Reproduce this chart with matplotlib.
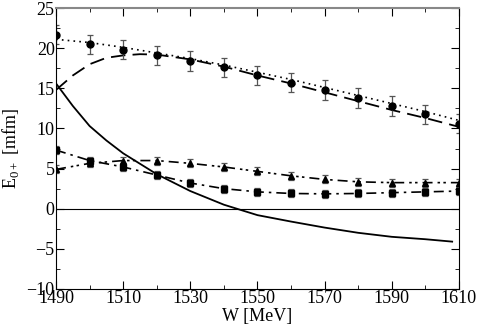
import numpy as np
import matplotlib.pyplot as plt

plt.rcParams['font.family'] = ['Liberation Serif', 'DejaVu Serif']
plt.rcParams['mathtext.fontset'] = 'custom'
plt.rcParams['mathtext.rm'] = 'Liberation Serif'

# data points
W = [1490, 1500, 1510, 1520, 1530, 1540, 1550, 1560, 1570, 1580, 1590, 1600, 1610]
circ = [21.7, 20.5, 19.8, 19.1, 18.4, 17.6, 16.6, 15.7, 14.8, 13.8, 12.8, 11.75, 10.6]
circ_err = [1.2] * 13
sq = [7.3, 6.0, 5.2, 4.2, 3.2, 2.5, 2.1, 1.9, 1.85, 1.9, 2.0, 2.1, 2.2]
sq_err = [0.5] * 13
tri = [4.9, 5.65, 6.0, 6.0, 5.65, 5.2, 4.65, 4.1, 3.65, 3.35, 3.25, 3.25, 3.25]
tri_err = [0.5] * 13

# curves
W_dot = [1490, 1500, 1510, 1520, 1530, 1540, 1550, 1560, 1570, 1580, 1590, 1600, 1610]
dot = [21.1, 20.7, 20.1, 19.4, 18.7, 17.9, 17.0, 16.1, 15.1, 14.1, 13.1, 12.1, 11.0]
W_dash = [1490, 1495, 1500, 1505, 1510, 1515, 1520, 1530, 1540, 1550, 1560, 1570, 1580, 1590, 1600, 1610]
dash = [14.8, 16.6, 18.0, 18.8, 19.1, 19.25, 19.2, 18.6, 17.7, 16.6, 15.6, 14.5, 13.4, 12.3, 11.3, 10.2]
W_sol = [1490, 1495, 1500, 1505, 1510, 1520, 1530, 1540, 1550, 1560, 1570, 1580, 1590, 1600, 1608]
sol = [15.6, 12.8, 10.3, 8.5, 6.9, 4.3, 2.2, 0.5, -0.8, -1.6, -2.35, -3.0, -3.5, -3.8, -4.1]

fig = plt.figure(figsize=(4.79, 3.29), dpi=100)
ax = fig.add_axes([0.117, 0.1216, 0.841, 0.854])

ax.axhline(0, color='black', lw=0.8)
ax.plot(W_sol, sol, color='black', lw=1.3)
ax.plot(W_dash, dash, color='black', lw=1.3, dashes=(8, 4))
ax.plot(W_dot, dot, color='black', lw=1.2, dashes=(1, 2.5))
ax.plot(W, sq, color='black', lw=1.2, dashes=(6, 3, 1.5, 3))
ax.plot(W, tri, color='black', lw=1.2, dashes=(6, 3, 1.5, 2, 1.5, 3))

ekw = dict(ls='none', color='black', ecolor='#555555', elinewidth=0.9, capsize=2, capthick=0.9)
ax.errorbar(W, circ, yerr=circ_err, marker='o', ms=5, **ekw)
ax.errorbar(W, sq, yerr=sq_err, marker='s', ms=4.5, **ekw)
ax.errorbar(W, tri, yerr=tri_err, marker='^', ms=5, **ekw)

ax.set_xlim(1490, 1610)
ax.set_ylim(-10, 25)
ax.set_xticks(np.arange(1490, 1611, 20))
ax.set_xticks(np.arange(1490, 1611, 10), minor=True)
ax.set_yticks(np.arange(-10, 26, 5))
ax.set_yticks(np.arange(-10, 26, 2.5), minor=True)
ax.tick_params(which='both', direction='in', top=True, right=True, labelsize=13, pad=1)
ax.tick_params(which='major', length=6)
ax.tick_params(which='minor', length=3)
ax.spines['top'].set_color('#888888')
ax.spines['top'].set_linewidth(1.5)

ax.set_xlabel('W [MeV]', fontsize=13, labelpad=0.5)
ax.set_ylabel(r'E$_{0+}$ [mfm]', fontsize=13, labelpad=4)

fig.savefig('out.png', dpi=100)
